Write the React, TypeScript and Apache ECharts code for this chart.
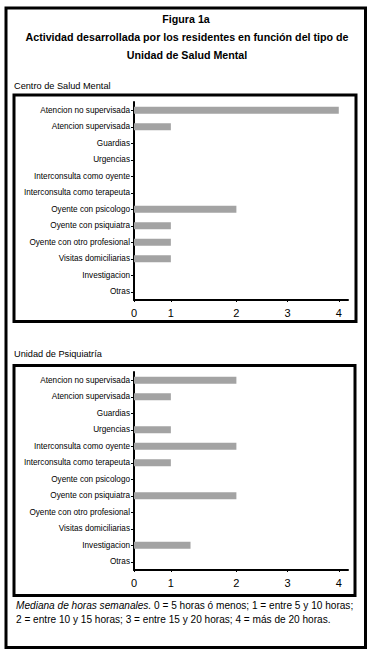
import React, { useEffect, useRef } from "react";
import * as echarts from "echarts";

const categories = [
  "Atencion no supervisada",
  "Atencion supervisada",
  "Guardias",
  "Urgencias",
  "Interconsulta como oyente",
  "Interconsulta como terapeuta",
  "Oyente con psicologo",
  "Oyente con psiquiatra",
  "Oyente con otro profesional",
  "Visitas domiciliarias",
  "Investigacion",
  "Otras",
];

const csmValues = [4, 1, 0, 0, 0, 0, 2, 1, 1, 1, 0, 0];
const psiqValues = [2, 1, 0, 1, 2, 1, 0, 2, 0, 0, 1.3, 0];

const tickLabels = ["0", "1", "2", "3", "4"];
const tickValues = [0, 1, 2, 3, 4];
// the printed scale of the source is uneven: where each tick sits along the axis
const tickPlacement = [0, 0.72, 2, 3, 4];
const axisEnd = 4.18;

const titleLines = [
  "Figura 1a",
  "Actividad desarrollada por los residentes en función del tipo de",
  "Unidad de Salud Mental",
];
const panelTitles = ["Centro de Salud Mental", "Unidad de Psiquiatría"];
const noteItalic = "Mediana de horas semanales.";
const noteLine1 = " 0 = 5 horas ó menos; 1 = entre 5 y 10 horas;";
const noteLine2 = "2 = entre 10 y 15 horas; 3 = entre 15 y 20 horas; 4 = más de 20 horas.";

function place(v: number): number {
  for (let i = 0; i < tickValues.length - 1; i++) {
    const a = tickValues[i];
    const b = tickValues[i + 1];
    if (v >= a && v <= b) {
      const t = (v - a) / (b - a);
      return tickPlacement[i] + t * (tickPlacement[i + 1] - tickPlacement[i]);
    }
  }
  return v;
}

const FONT = "Liberation Sans";

export default function App() {
  const ref = useRef<HTMLDivElement>(null);
  useEffect(() => {
    if (!ref.current) return;
    const chart = echarts.init(ref.current, undefined, { renderer: "svg" });
    const grids = [
      { left: 134, top: 102, width: 214, height: 198 },
      { left: 134, top: 372, width: 214, height: 198 },
    ];
    const xAxes = grids.map((_, i) => ({
      type: "value",
      gridIndex: i,
      min: 0,
      max: axisEnd,
      splitLine: { show: false },
      axisLine: { show: true, onZero: false, lineStyle: { color: "#000", width: 2 } },
      axisTick: { show: true, length: 2, customValues: tickPlacement, lineStyle: { color: "#000", width: 1 } },
      axisLabel: {
        customValues: tickPlacement,
        color: "#000",
        fontFamily: FONT,
        fontSize: 11,
        margin: 7,
        formatter: (v: number) => {
          let best = 0;
          for (let k = 0; k < tickPlacement.length; k++) {
            if (Math.abs(tickPlacement[k] - v) < Math.abs(tickPlacement[best] - v)) best = k;
          }
          return tickLabels[best];
        },
      },
    }));
    const yAxes = grids.map((_, i) => ({
      type: "category",
      gridIndex: i,
      data: categories,
      inverse: true,
      axisLine: { show: true, lineStyle: { color: "#000", width: 2 } },
      axisTick: { show: true, alignWithLabel: true, length: 3, lineStyle: { color: "#000", width: 1 } },
      axisLabel: { color: "#000", fontFamily: FONT, fontSize: 8.2, margin: 4 },
    }));
    const series = [csmValues, psiqValues].map((vals, i) => ({
      type: "bar",
      xAxisIndex: i,
      yAxisIndex: i,
      data: vals.map(place),
      barWidth: 7,
      itemStyle: { color: "#a3a3a3" },
    }));
    const box = (x: number, y: number, w: number, h: number) => ({
      type: "rect",
      shape: { x, y, width: w, height: h },
      style: { fill: "none", stroke: "#000", lineWidth: 3 },
      silent: true,
    });
    const txt = (text: string, x: number, y: number, opts: any = {}) => ({
      type: "text",
      x,
      y,
      style: {
        text,
        fill: "#000",
        fontFamily: FONT,
        fontSize: 10,
        textAlign: "left",
        textVerticalAlign: "middle",
        ...opts,
      },
      silent: true,
    });
    chart.setOption({
      animation: false,
      backgroundColor: "#fff",
      grid: grids,
      xAxis: xAxes,
      yAxis: yAxes,
      series,
      graphic: [
        box(6, 8, 359.5, 639.5),
        box(14, 95, 342, 226.5),
        box(14, 365.5, 341, 230),
        txt(titleLines[0], 186, 19, { fontWeight: "bold", fontSize: 10.7, textAlign: "center" }),
        txt(titleLines[1], 187, 37, { fontWeight: "bold", fontSize: 10.7, textAlign: "center" }),
        txt(titleLines[2], 187, 55, { fontWeight: "bold", fontSize: 10.7, textAlign: "center" }),
        txt(panelTitles[0], 14, 86, { fontSize: 9.2 }),
        txt(panelTitles[1], 14, 354, { fontSize: 9.2 }),
        {
          type: "text",
          x: 16,
          y: 605,
          style: {
            text: "{i|" + noteItalic + "}" + noteLine1,
            fill: "#000",
            fontFamily: FONT,
            fontSize: 10.1,
            textVerticalAlign: "middle",
            rich: { i: { fontStyle: "italic", fontFamily: FONT, fontSize: 10.1, fill: "#000" } },
          },
          silent: true,
        },
        txt(noteLine2, 16, 619, { fontSize: 10.1 }),
      ],
    });
    return () => chart.dispose();
  }, []);
  return (
    <div
      ref={ref}
      style={{ position: "absolute", left: 0, top: 0, width: 373, height: 652, background: "#fff" }}
    />
  );
}
